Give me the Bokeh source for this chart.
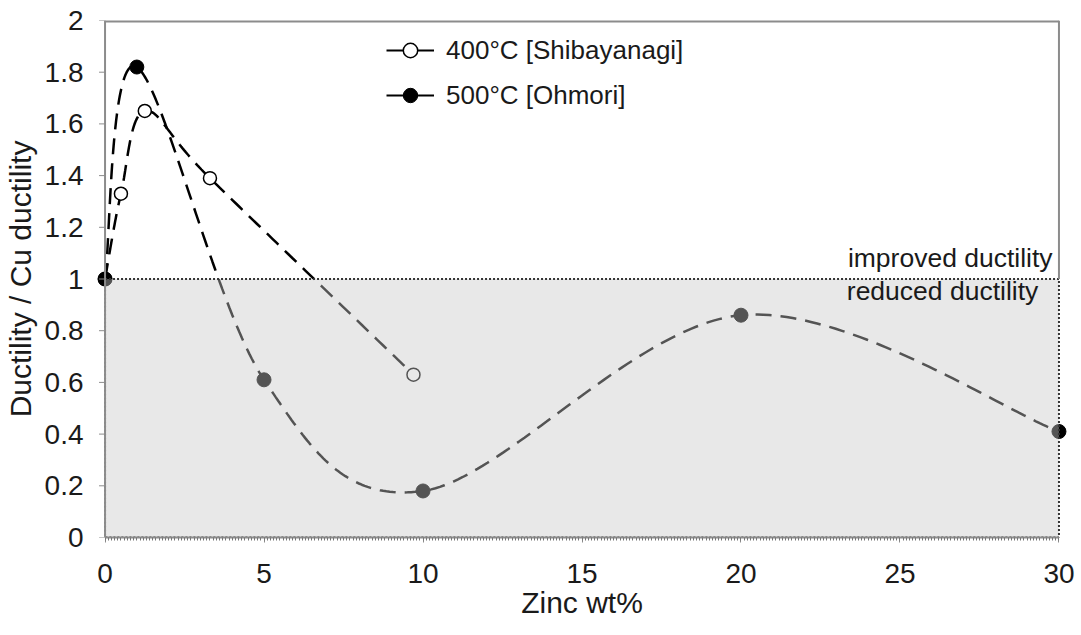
import numpy as np
from bokeh.plotting import figure
from bokeh.models import (Range1d, FixedTicker, Legend, LegendItem, Label,
                          ColumnDataSource, CustomJSTickFormatter)
from bokeh.embed import file_html
from bokeh.resources import INLINE

# Ductility relative to pure copper vs. zinc content
zn_400 = [0, 0.5, 1.25, 3.3, 9.7]
ratio_400 = [1.0, 1.33, 1.65, 1.39, 0.63]
zn_500 = [0, 1, 5, 10, 20, 30]
ratio_500 = [1.0, 1.82, 0.61, 0.18, 0.86, 0.41]

label_400 = "400°C [Shibayanagi]"
label_500 = "500°C [Ohmori]"

x_ticks = [0, 5, 10, 15, 20, 25, 30]
y_ticks = [0, 0.2, 0.4, 0.6, 0.8, 1, 1.2, 1.4, 1.6, 1.8, 2]
cu_ref = 1.0          # ductility of pure Cu (ratio = 1)
zn_max = 30
ratio_max = 2

FONT = "Liberation Sans"
FRAME = "#8c8c8c"
TEXT = "#1a1a1a"


def smooth(xs, ys, n=60):
    """Cubic Bezier smoothing through every point (Catmull-Rom style)."""
    pts = np.column_stack([xs, ys]).astype(float)
    ext = np.vstack([pts[0], pts, pts[-1]])
    out = []
    t = np.linspace(0, 1, n)[:, None]
    for i in range(1, len(ext) - 2):
        p0, p1, p2, p3 = ext[i - 1], ext[i], ext[i + 1], ext[i + 2]
        b1 = p1 + (p2 - p0) / 6.0
        b2 = p2 - (p3 - p1) / 6.0
        seg = ((1 - t) ** 3) * p1 + 3 * ((1 - t) ** 2) * t * b1 \
            + 3 * (1 - t) * t ** 2 * b2 + t ** 3 * p2
        out.append(seg if i == 1 else seg[1:])
    c = np.vstack(out)
    return c[:, 0], c[:, 1]


pad = 0.3   # keeps the end markers from being clipped by the frame
p = figure(width=1081, height=635,
           x_range=Range1d(-pad, zn_max + pad), y_range=Range1d(0, ratio_max),
           output_backend="svg", toolbar_location=None,
           min_border_left=94, min_border_right=13,
           min_border_top=20, min_border_bottom=98)
p.outline_line_color = None
p.grid.visible = False
p.background_fill_color = "white"
p.border_fill_color = "white"

# smoothed dashed curves
sx4, sy4 = smooth(zn_400, ratio_400)
sx5, sy5 = smooth(zn_500, ratio_500)
p.line(sx4, sy4, line_color="black", line_width=2.5, line_dash="16 9")
p.line(sx5, sy5, line_color="black", line_width=2.5, line_dash="16 9")

p.scatter(zn_400, ratio_400, marker="circle", size=13,
          fill_color="white", line_color="black", line_width=1.5)
p.scatter(zn_500, ratio_500, marker="circle", size=14,
          fill_color="black", line_color="black")

# translucent band for ratios below pure Cu
p.quad(left=[0], right=[zn_max], bottom=[0], top=[cu_ref],
       fill_color="#c8c8c8", fill_alpha=0.42,
       line_color="#333333", line_width=2, line_dash="2 2")

# plot frame: left edge with its ticks, top edge, right edge above the band
tick_len = 6 / 31.83
p.segment(x0=[0], y0=[0], x1=[0], y1=[ratio_max], line_color=FRAME, line_width=2)
p.segment(x0=[-tick_len] * len(y_ticks), y0=y_ticks, x1=[0] * len(y_ticks),
          y1=y_ticks, line_color=FRAME, line_width=1)
p.segment(x0=[0], y0=[ratio_max], x1=[zn_max], y1=[ratio_max],
          line_color=FRAME, line_width=4)
p.segment(x0=[zn_max], y0=[cu_ref], x1=[zn_max], y1=[ratio_max],
          line_color=FRAME, line_width=2)

# x axis
xa = p.xaxis[0]
xa.ticker = FixedTicker(ticks=x_ticks,
                        minor_ticks=list(np.round(np.arange(0, 30.001, 0.1), 1)))
xa.bounds = (0, zn_max)
xa.axis_line_color = FRAME
xa.axis_line_width = 2
xa.major_tick_line_color = FRAME
xa.major_tick_out = 5
xa.major_tick_in = 0
xa.minor_tick_line_color = "#777777"
xa.minor_tick_out = 3
xa.minor_tick_in = 0
xa.major_label_standoff = 21
xa.major_label_text_font = FONT
xa.major_label_text_font_size = "28px"
xa.major_label_text_color = TEXT
xa.axis_label = "Zinc wt%"
xa.axis_label_text_font = FONT
xa.axis_label_text_font_size = "30px"
xa.axis_label_text_font_style = "normal"
xa.axis_label_text_color = TEXT
xa.axis_label_standoff = 0

# y axis: labels only, its line and ticks are drawn at x = 0 above
ya = p.yaxis[0]
ya.ticker = FixedTicker(ticks=y_ticks, minor_ticks=[])
ya.formatter = CustomJSTickFormatter(code="return String(Math.round(tick*10)/10)")
ya.axis_line_color = None
ya.major_tick_line_color = None
ya.minor_tick_line_color = None
ya.major_tick_out = 0
ya.major_tick_in = 0
ya.major_label_standoff = 12
ya.major_label_text_font = FONT
ya.major_label_text_font_size = "28px"
ya.major_label_text_color = TEXT
ya.axis_label = "Ductility / Cu ductility"
ya.axis_label_text_font = FONT
ya.axis_label_text_font_size = "30px"
ya.axis_label_text_font_style = "normal"
ya.axis_label_text_color = TEXT
ya.axis_label_standoff = 5

# band annotations
p.add_layout(Label(x=29.8, y=1.08, text="improved ductility",
                   text_align="right", text_baseline="middle",
                   text_font=FONT, text_font_size="26.5px", text_color=TEXT))
p.add_layout(Label(x=29.35, y=0.955, text="reduced ductility",
                   text_align="right", text_baseline="middle",
                   text_font=FONT, text_font_size="26.5px", text_color=TEXT))

# legend with solid-line swatches
src4 = ColumnDataSource(data=dict(x=[np.nan], y=[np.nan]))
src5 = ColumnDataSource(data=dict(x=[np.nan], y=[np.nan]))
l4 = p.line("x", "y", source=src4, line_color="black", line_width=2)
m4 = p.scatter("x", "y", source=src4, marker="circle", size=12,
               fill_color="white", line_color="black", line_width=1.5)
l5 = p.line("x", "y", source=src5, line_color="black", line_width=2)
m5 = p.scatter("x", "y", source=src5, marker="circle", size=13,
               fill_color="black", line_color="black")

legend = Legend(items=[LegendItem(label=label_400, renderers=[l4, m4]),
                       LegendItem(label=label_500, renderers=[l5, m5])],
                location=(291, 424), orientation="vertical",
                background_fill_alpha=0, border_line_color=None,
                label_text_font=FONT, label_text_font_size="26px",
                label_text_color=TEXT,
                glyph_width=48, glyph_height=36, label_height=36,
                spacing=9, padding=0, margin=0, label_standoff=12)
p.add_layout(legend)

open("out.html", "w").write(file_html(p, INLINE))
